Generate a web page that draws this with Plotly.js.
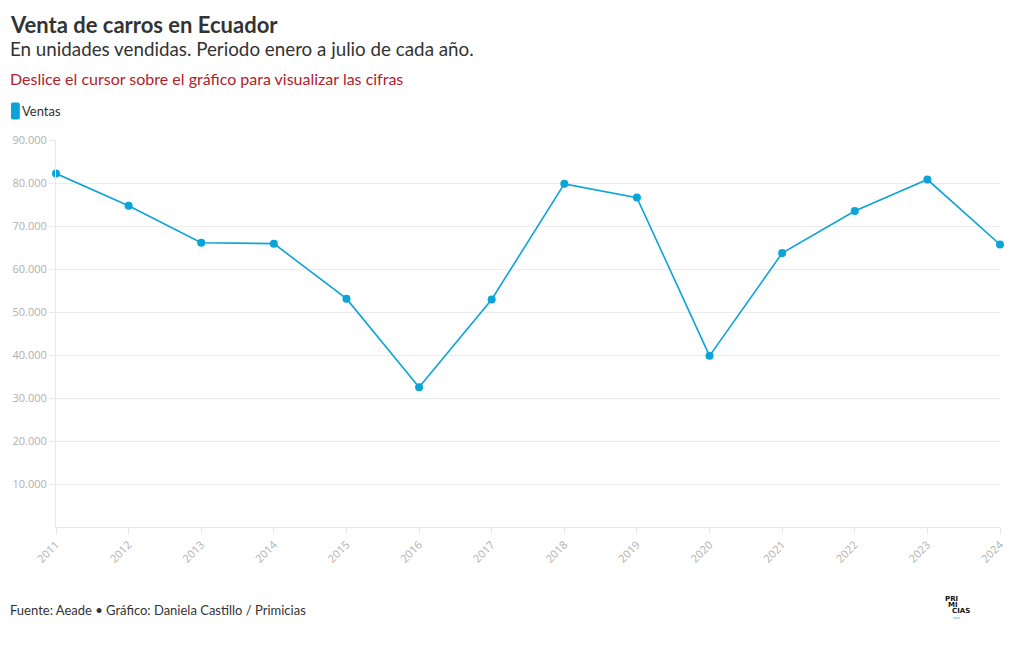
<!DOCTYPE html>
<html>
<head>
<meta charset="utf-8">
<script src="https://cdn.plot.ly/plotly-3.0.1.min.js"></script>
<style>
html,body{margin:0;padding:0;background:#fff;}
#chart{width:1020px;height:650px;}
</style>
</head>
<body>
<div id="chart"></div>
<script>
const years = [2011, 2012, 2013, 2014, 2015, 2016, 2017, 2018, 2019, 2020, 2021, 2022, 2023, 2024];
const ventas = [82200, 74700, 66100, 65900, 53100, 32500, 52900, 79800, 76600, 39800, 63700, 73500, 80800, 65700];
const yTicks = [10000, 20000, 30000, 40000, 50000, 60000, 70000, 80000, 90000];

const FONT = 'Lato, "Open Sans", sans-serif';
const lineColor = '#0aa3da';

const trace = {
  x: years,
  y: ventas,
  type: 'scatter',
  mode: 'lines+markers',
  name: 'Ventas',
  line: {color: lineColor, width: 1.6},
  marker: {color: lineColor, size: 8},
  cliponaxis: false,
  showlegend: false,
  hovertemplate: '%{x}<br>%{y:,d}<extra></extra>'
};

const layout = {
  width: 1020,
  height: 650,
  margin: {l: 56, r: 20, t: 140, b: 123},
  paper_bgcolor: '#fff',
  plot_bgcolor: '#fff',
  separators: ',.',
  font: {family: FONT, color: '#333'},
  xaxis: {
    range: [2011, 2024],
    tickmode: 'array',
    tickvals: years,
    tickangle: -45,
    tickfont: {family: '"Open Sans", sans-serif', size: 11, color: '#b0b0b0'},
    showgrid: false,
    zeroline: false,
    showline: true,
    linecolor: '#e8e8e8',
    linewidth: 1,
    ticks: 'outside',
    ticklen: 6,
    tickcolor: '#e8e8e8',
    fixedrange: true
  },
  yaxis: {
    range: [0, 90000],
    tickmode: 'array',
    tickvals: yTicks,
    tickformat: ',d',
    tickfont: {family: '"Open Sans", sans-serif', size: 11, color: '#b0b0b0'},
    showgrid: true,
    gridcolor: '#ececec',
    gridwidth: 1,
    zeroline: false,
    showline: true,
    linecolor: '#e8e8e8',
    ticks: 'outside',
    ticklen: 6,
    tickcolor: '#e8e8e8',
    fixedrange: true
  },
  shapes: [
    {
      type: 'path',
      xref: 'paper', yref: 'paper',
      path: 'M -0.0477 1.092 Q -0.0477 1.097 -0.0456 1.097 L -0.0404 1.097 Q -0.0383 1.097 -0.0383 1.092 L -0.0383 1.058 Q -0.0383 1.053 -0.0404 1.053 L -0.0456 1.053 Q -0.0477 1.053 -0.0477 1.058 Z',
      fillcolor: lineColor,
      line: {width: 0}
    },
    {
      type: 'line', xref: 'paper', yref: 'paper',
      x0: 0.9502, x1: 0.9576, y0: -0.2351, y1: -0.2351,
      line: {color: '#6cc3ea', width: 1}
    }
  ],
  annotations: [
    {
      xref: 'paper', yref: 'paper', x: -0.0477, y: 1.2997, xshift: -3,
      xanchor: 'left', yanchor: 'middle', showarrow: false,
      text: '<b>Venta de carros en Ecuador</b>',
      font: {family: FONT, size: 22, color: '#333'}
    },
    {
      xref: 'paper', yref: 'paper', x: -0.0477, y: 1.2377, xshift: -3,
      xanchor: 'left', yanchor: 'middle', showarrow: false,
      text: 'En unidades vendidas. Periodo enero a julio de cada año.',
      font: {family: FONT, size: 18.8, color: '#333'}
    },
    {
      xref: 'paper', yref: 'paper', x: -0.0477, y: 1.160, xshift: -3,
      xanchor: 'left', yanchor: 'middle', showarrow: false,
      text: 'Deslice el cursor sobre el gráfico para visualizar las cifras',
      font: {family: FONT, size: 16, color: '#b0212b'}
    },
    {
      xref: 'paper', yref: 'paper', x: -0.0345, y: 1.075, xshift: -3,
      xanchor: 'left', yanchor: 'middle', showarrow: false,
      text: 'Ventas',
      font: {family: FONT, size: 13, color: '#333'}
    },
    {
      xref: 'paper', yref: 'paper', x: -0.0477, y: -0.2145, xshift: -3,
      xanchor: 'left', yanchor: 'middle', showarrow: false,
      text: 'Fuente: Aeade • Gráfico: Daniela Castillo / Primicias',
      font: {family: FONT, size: 13, color: '#333'}
    },
    {
      xref: 'paper', yref: 'paper', x: 0.9544, y: -0.1873, xshift: 3,
      xanchor: 'right', yanchor: 'middle', showarrow: false,
      text: '<b>PRI</b>',
      font: {family: '"DejaVu Sans", sans-serif', size: 7, color: '#111'}
    },
    {
      xref: 'paper', yref: 'paper', x: 0.9544, y: -0.2028, xshift: 3,
      xanchor: 'right', yanchor: 'middle', showarrow: false,
      text: '<b>MI</b>',
      font: {family: '"DejaVu Sans", sans-serif', size: 7, color: '#111'}
    },
    {
      xref: 'paper', yref: 'paper', x: 0.9502, y: -0.2183, xshift: -3,
      xanchor: 'left', yanchor: 'middle', showarrow: false,
      text: '<b>CIAS</b>',
      font: {family: '"DejaVu Sans", sans-serif', size: 7, color: '#111'}
    }
  ],
  hovermode: 'closest',
  showlegend: false
};

Plotly.newPlot('chart', [trace], layout, {displayModeBar: false, responsive: false});
</script>
</body>
</html>
